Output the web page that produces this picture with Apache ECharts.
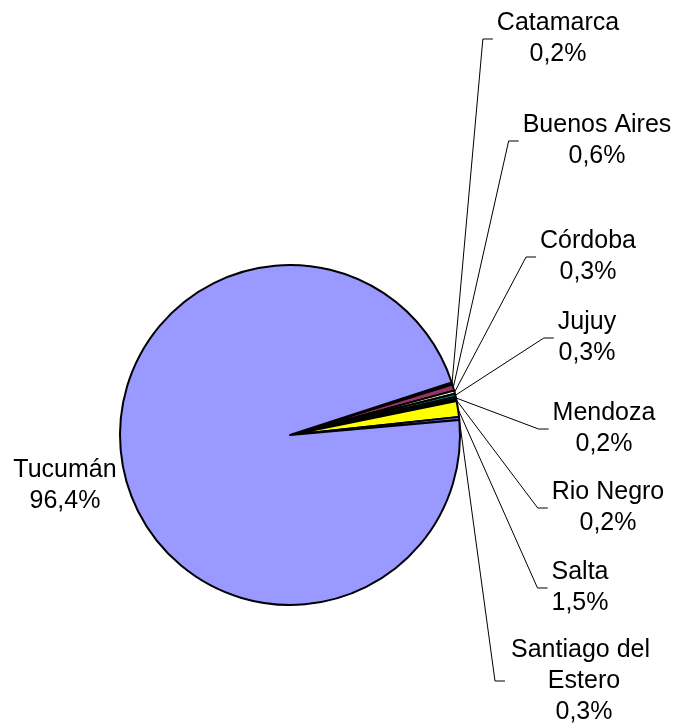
<!DOCTYPE html>
<html>
<head>
<meta charset="utf-8">
<script src="https://cdn.jsdelivr.net/npm/echarts@6/dist/echarts.min.js"></script>
<style>
  html, body { margin: 0; padding: 0; background: #fff; }
  #chart { width: 687px; height: 727px; }
</style>
</head>
<body>
<div id="chart"></div>
<script>
// provincias y porcentajes
const provincias = ['Catamarca', 'Buenos Aires', 'Córdoba', 'Jujuy', 'Mendoza', 'Rio Negro', 'Salta', 'Santiago del Estero', 'Tucumán'];
const porcentajes = [0.2, 0.6, 0.3, 0.3, 0.2, 0.2, 1.5, 0.3, 96.4];
const colores = ['#660066', '#993366', '#FFFFCC', '#008080', '#0066CC', '#CCCCFF', '#FFFF00', '#6666FF', '#9999FF'];

// posiciones de las etiquetas (centro del bloque de texto)
const posEtiquetas = [
  [558, 39], [597, 141], [588, 257], [587, 338], [604, 429],
  [608, 508], [580, 588], [584, 681], [65, 486]
];

const chart = echarts.init(document.getElementById('chart'));

const datos = provincias.map((p, i) => {
  const item = {
    name: p,
    value: porcentajes[i],
    itemStyle: { color: colores[i] }
  };
  if (p === 'Santiago del Estero') {
    item.label = { width: 150, overflow: 'break' };
  }
  if (p === 'Tucumán') {
    item.labelLine = { show: false };
  }
  return item;
});

chart.setOption({
  animation: false,
  series: [{
    type: 'pie',
    center: [290, 435],
    radius: 170,
    startAngle: 18,
    clockwise: true,
    avoidLabelOverlap: false,
    data: datos,
    itemStyle: { borderColor: '#000', borderWidth: 2 },
    emphasis: { disabled: true },
    label: {
      show: true,
      position: 'outside',
      color: '#000',
      fontFamily: 'Liberation Sans, Arial, sans-serif',
      fontSize: 25,
      lineHeight: 31,
      align: 'center',
      formatter: p => p.name + '\n' + p.value.toFixed(1).replace('.', ',') + '%'
    },
    labelLine: {
      show: true,
      length: 20,
      length2: 10,
      lineStyle: { color: '#000', width: 1 }
    },
    labelLayout: params => {
      const pos = posEtiquetas[params.dataIndex];
      const res = { x: pos[0], y: pos[1], align: 'center', verticalAlign: 'middle' };
      const pts = params.labelLinePoints;
      if (pts && pts.length) {
        // linea guia: del borde del sector al lado izquierdo de la etiqueta
        const fin = [pos[0] - params.labelRect.width / 2 - 4, pos[1]];
        res.labelLinePoints = [pts[0], [fin[0] - 10, fin[1]], fin];
      }
      return res;
    }
  }]
});
</script>
</body>
</html>
